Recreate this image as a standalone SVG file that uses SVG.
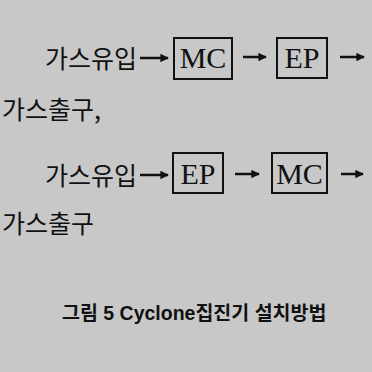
<svg xmlns="http://www.w3.org/2000/svg" width="372" height="372" viewBox="0 0 372 372">
  <style>
    .ko { font-family: "Noto Sans CJK KR", "Noto Sans", sans-serif; font-size: 25px; fill: #111; }
    .lat { font-family: "Liberation Serif", "Noto Sans CJK KR", serif; font-size: 30px; fill: #111; text-anchor: middle; }
    .box { fill: none; stroke: #111; stroke-width: 2; }
    .arr { stroke: #111; stroke-width: 2.5; fill: none; marker-end: url(#ah); }
    .cap { font-family: "Liberation Sans", "Noto Sans CJK KR", sans-serif; font-size: 19.5px; font-weight: bold; fill: #111; }
  </style>
  <defs>
    <marker id="ah" viewBox="0 0 10 10" refX="9" refY="5" markerWidth="3.4" markerHeight="3.4" orient="auto" markerUnits="strokeWidth">
      <path d="M0,0 L10,5 L0,10 z" fill="#111"/>
    </marker>
  </defs>
  <rect width="372" height="372" fill="#c8c8c8"/>

  <g id="row1-inlet"><text class="ko" x="45" y="68">가스유입</text></g>
  <g id="row1-mc"><rect class="box" x="174" y="38" width="58" height="41"/><text class="lat" x="203" y="68">MC</text></g>
  <g id="row1-ep"><rect class="box" x="277" y="38" width="50" height="40"/><text class="lat" x="302" y="68">EP</text></g>
  <g id="row2-outlet"><text class="ko" x="2" y="119">가스출구,</text></g>

  <g id="row3-inlet"><text class="ko" x="45" y="185">가스유입</text></g>
  <g id="row3-ep"><rect class="box" x="173" y="153" width="50" height="40"/><text class="lat" x="198" y="184">EP</text></g>
  <g id="row3-mc"><rect class="box" x="272" y="153" width="55" height="40"/><text class="lat" x="299.5" y="184">MC</text></g>
  <g id="row4-outlet"><text class="ko" x="2" y="233">가스출구</text></g>

  <g id="connectors">
    <line class="arr" x1="140" y1="58" x2="168" y2="58"/>
    <line class="arr" x1="243" y1="57" x2="266" y2="57"/>
    <line class="arr" x1="340" y1="57" x2="364" y2="57"/>
    <line class="arr" x1="140" y1="175" x2="168" y2="175"/>
    <line class="arr" x1="235" y1="174" x2="259" y2="174"/>
    <line class="arr" x1="341" y1="174" x2="363" y2="174"/>
  </g>

  <g id="caption"><text class="cap" x="62" y="320">그림 5 Cyclone집진기 설치방법</text></g>
</svg>
